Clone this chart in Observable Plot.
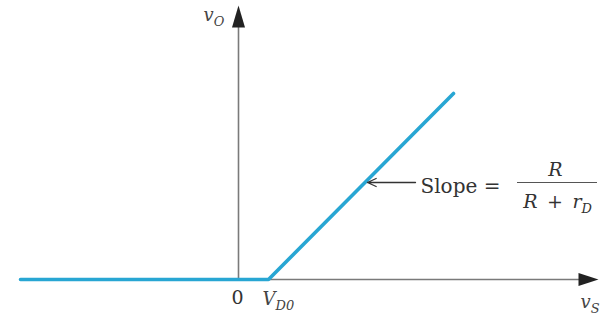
<!DOCTYPE html>
<html><head><meta charset="utf-8">
<script src="https://cdn.jsdelivr.net/npm/d3@7"></script>
<script src="https://cdn.jsdelivr.net/npm/@observablehq/plot@0.6"></script>
<style>body{margin:0;background:#fff}</style>
</head><body><div id="chart"></div>
<script>
// Diode transfer characteristic (arbitrary units, origin at 0, knee at V_D0)
const vS = [-218, 0, 30, 215];
const vO = [0, 0, 0, 186];
// axis extents (arrow tips)
const xAxisTip = 360;
const yAxisTip = 274;
// axis labels
const axisLabelText = ["v_{O}", "V_{D0}", "v_{S}"];
const axisLabelX = [-35, 24, 342];
const axisLabelY = [264, -20, -23];
// origin label
const originText = ["0"];
const originX = [-1];
const originY = [-18];
// slope annotation
const slopeText = ["Slope ="];
const slopeX = [182];
const slopeY = [93];
const fracText = ["R", "R\u2002+\u2002r_{D}"];
const fracX = [317, 319];
const fracY = [110, 78];
const fracBarY = [97];
const fracBarX = [279, 359];
const pointerFrom = [177, 97];
const pointerTo = [129, 97];

const curve = vS.map((x, i) => ({x, y: vO[i]}));
const mk = (t, xs, ys) => t.map((text, i) => ({text, x: xs[i], y: ys[i]}));

const arrowHead = {
  draw(ctx, l, r) {
    ctx.moveTo(0, -l);
    ctx.lineTo(r, 0);
    ctx.lineTo(-r, 0);
    ctx.closePath();
  }
};

const axisColor = "#7a7a7a";
const inkColor = "#333";
const serif = "DejaVu Serif, Liberation Serif, serif";

const svg = Plot.plot({
  width: 601,
  height: 321,
  margin: 0,
  x: {domain: [-238, 363], axis: null},
  y: {domain: [-42, 279], axis: null},
  style: {background: "#fff", fontFamily: serif},
  marks: [
    Plot.ruleX([0], {y1: 0, y2: yAxisTip - 20, stroke: axisColor, strokeWidth: 1.6}),
    Plot.ruleY([0], {x1: 0, x2: xAxisTip - 18, stroke: axisColor, strokeWidth: 1.6}),
    Plot.vector([{x: 0, y: yAxisTip}], {x: "x", y: "y", length: 22, r: 6.5, anchor: "end", rotate: 0, shape: arrowHead, fill: "#222", stroke: "none"}),
    Plot.vector([{x: xAxisTip, y: 0}], {x: "x", y: "y", length: 20, r: 6.5, anchor: "end", rotate: 90, shape: arrowHead, fill: "#222", stroke: "none"}),
    Plot.line(curve, {x: "x", y: "y", stroke: "#28a6d3", strokeWidth: 3.6, strokeLinejoin: "miter"}),
    Plot.arrow([{x1: pointerFrom[0], y1: pointerFrom[1], x2: pointerTo[0], y2: pointerTo[1]}], {x1: "x1", y1: "y1", x2: "x2", y2: "y2", stroke: inkColor, strokeWidth: 1.3, headLength: 11, headAngle: 50}),
    Plot.ruleY(fracBarY, {x1: fracBarX[0], x2: fracBarX[1], stroke: "#555", strokeWidth: 1.2}),
    Plot.text(mk(axisLabelText, axisLabelX, axisLabelY), {x: "x", y: "y", text: "text", textAnchor: "start", fontStyle: "italic", fontSize: 18, fill: "#444", className: "rich"}),
    Plot.text(mk(originText, originX, originY), {x: "x", y: "y", text: "text", textAnchor: "middle", fontSize: 19, fill: inkColor}),
    Plot.text(mk(slopeText, slopeX, slopeY), {x: "x", y: "y", text: "text", textAnchor: "start", fontSize: 20, fill: inkColor}),
    Plot.text(mk(fracText, fracX, fracY), {x: "x", y: "y", text: "text", textAnchor: "middle", fontStyle: "italic", fontSize: 19, fill: inkColor, className: "rich"})
  ]
});

d3.select(svg).selectAll("g.rich text").each(function() {
  const el = d3.select(this);
  const s = el.text();
  const fs = parseFloat(getComputedStyle(this).fontSize) || 18;
  el.text(null);
  const parts = s.split(/(_\{[^}]*\})/).filter(p => p.length);
  let shifted = false;
  const sh = fs * 0.28;
  parts.forEach(p => {
    if (p.startsWith("_{")) {
      el.append("tspan").attr("font-size", (fs * 0.72) + "px").attr("dy", sh + "px").text(p.slice(2, -1));
      shifted = true;
    } else {
      const t = el.append("tspan").text(p);
      if (shifted) { t.attr("dy", (-sh) + "px"); shifted = false; }
    }
  });
});

document.getElementById("chart").appendChild(svg);
</script>
</body></html>
